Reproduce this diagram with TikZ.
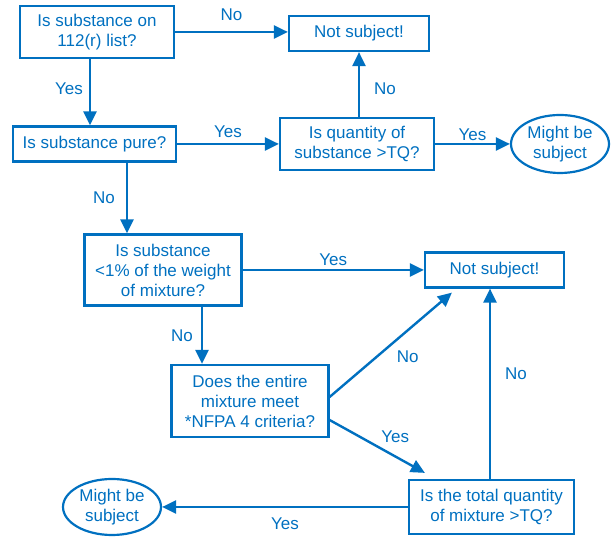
\documentclass[tikz,border=0pt]{standalone}
\usepackage{fontspec}
\setmainfont{Liberation Sans}
\usetikzlibrary{arrows.meta,shapes.geometric}
\definecolor{flowblue}{RGB}{0,112,192}
\begin{document}
\begin{tikzpicture}[x=1pt,y=1pt,auto,>={Triangle[length=14pt,width=13pt]},
	main node/.style = {rectangle,draw=flowblue,line width=2.2pt,inner sep=0pt,align=center,text=flowblue,font=\fontsize{17}{20}\selectfont},
	end node/.style = {ellipse,draw=flowblue,line width=2.2pt,inner sep=0pt,align=center,text=flowblue,font=\fontsize{17}{20}\selectfont},
	every edge/.style = {draw=flowblue,line width=2.4pt},
	ans/.style = {text=flowblue,font=\fontsize{17}{20}\selectfont,inner sep=6pt}]
	
	\useasboundingbox (0,0) rectangle (611,537);
	
	\node[main node,minimum width=154pt,minimum height=52pt] (1) at (97,505) {Is substance on\\112(r) list?};
	\node[main node,minimum width=140pt,minimum height=35pt] (2) at (359,503.5) {Not subject!};
	\node[main node,minimum width=163pt,minimum height=35pt] (3) at (94.5,393) {Is substance pure?};
	\node[main node,minimum width=154pt,minimum height=52pt] (4) at (357,393) {Is quantity of\\substance >TQ?};
	\node[end node,minimum width=98pt,minimum height=58pt] (5) at (560,393) {Might be\\subject};
	\node[main node,minimum width=157pt,minimum height=71pt] (6) at (163,267) {Is substance\\<1\% of the weight\\of mixture?};
	\node[main node,minimum width=139pt,minimum height=35pt] (7) at (494.5,267) {Not subject!};
	\node[main node,minimum width=157pt,minimum height=72pt] (8) at (250,136) {Does the entire\\mixture meet\\*NFPA 4 criteria?};
	\node[main node,minimum width=165pt,minimum height=54pt] (9) at (491.5,30) {Is the total quantity\\of mixture >TQ?};
	\node[end node,minimum width=98pt,minimum height=56pt] (10) at (112,30) {Might be\\subject};
	
	\path[->,every node/.style=ans]
	(1.east) edge node[inner sep=10pt] {No} (1.east -| 2.west)
	([xshift=-7pt]1.south) edge node[swap,pos=.45] {Yes} ([xshift=-4.5pt]3.north)
	(3) edge node[inner sep=5pt] {Yes} (4)
	([xshift=2pt]4.north) edge node[swap,pos=.43,inner sep=14pt] {No} (2.south)
	(4) edge node[inner sep=2.5pt] {Yes} (5)
	([xshift=32.5pt]3.south) edge node[swap,inner sep=11pt] {No} ([xshift=-36pt]6.north)
	(6) edge node[inner sep=3.5pt] {Yes} (7)
	([xshift=39pt]6.south) edge node[swap,inner sep=8pt] {No} ([xshift=-48pt]8.north)
	([yshift=4pt]8.east) edge node[swap,inner sep=5pt] {No} ([xshift=28pt,yshift=-4pt]7.south west)
	([yshift=-19pt]8.east) edge node[inner sep=3pt] {Yes} ([xshift=17pt,yshift=6pt]9.north west)
	([xshift=-1.5pt]9.north) edge node[swap,pos=.55,inner sep=14pt] {No} ([xshift=-4.5pt]7.south)
	(9) edge node[inner sep=10pt] {Yes} (10);
\end{tikzpicture}
\end{document}
